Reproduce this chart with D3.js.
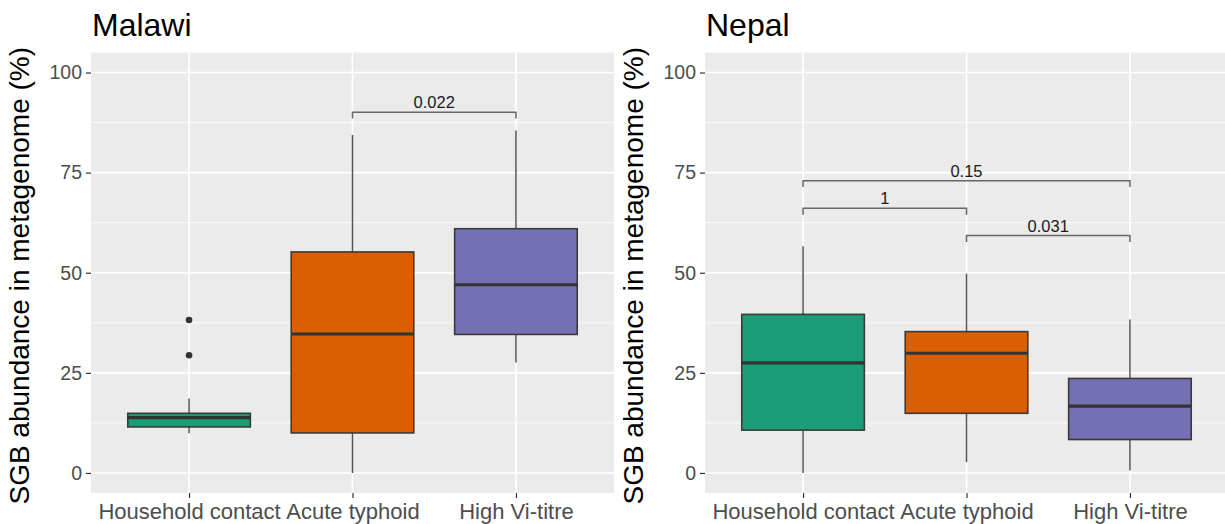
<!DOCTYPE html>
<html>
<head>
<meta charset="utf-8">
<script src="https://cdn.jsdelivr.net/npm/d3@7"></script>
<style>
  html, body { margin: 0; padding: 0; background: #ffffff; }
  svg { display: block; font-family: "Liberation Sans", Arial, Helvetica, sans-serif; }
</style>
</head>
<body>
<svg id="chart" width="1225" height="524"></svg>
<script>
// ---------- data ----------
const categories = ["Household contact", "Acute typhoid", "High Vi-titre"];
const groupColors = ["#1B9E77", "#D95F02", "#7570B3"];
const yTicks = [0, 25, 50, 75, 100];
const yMinor = [12.5, 37.5, 62.5, 87.5];

const panelTitles = ["Malawi", "Nepal"];
const yAxisTitle = "SGB abundance in metagenome (%)";

// Malawi
const malawiLower  = [9.9, 0.0, 27.6];
const malawiQ1     = [11.5, 10.0, 34.6];
const malawiMedian = [13.8, 34.7, 47.0];
const malawiQ3     = [14.9, 55.2, 61.0];
const malawiUpper  = [18.6, 84.4, 85.5];
const malawiOutliers = [[29.4, 38.2], [], []];
const malawiBrackets = [{ from: 1, to: 2, y: 90.1, label: "0.022" }];

// Nepal
const nepalLower  = [0.0, 2.7, 0.6];
const nepalQ1     = [10.7, 14.9, 8.35];
const nepalMedian = [27.5, 29.9, 16.7];
const nepalQ3     = [39.6, 35.3, 23.6];
const nepalUpper  = [56.6, 49.75, 38.3];
const nepalOutliers = [[], [], []];
const nepalBrackets = [
  { from: 0, to: 2, y: 73.0, label: "0.15" },
  { from: 0, to: 1, y: 66.1, label: "1" },
  { from: 1, to: 2, y: 59.3, label: "0.031" }
];

function buildBoxes(lower, q1, med, q3, upper, outliers) {
  return categories.map((c, i) => ({
    cat: c, color: groupColors[i],
    lower: lower[i], q1: q1[i], median: med[i], q3: q3[i], upper: upper[i],
    outliers: outliers[i]
  }));
}

const panels = [
  { title: panelTitles[0], left: 91, boxes: buildBoxes(malawiLower, malawiQ1, malawiMedian, malawiQ3, malawiUpper, malawiOutliers), brackets: malawiBrackets },
  { title: panelTitles[1], left: 705, boxes: buildBoxes(nepalLower, nepalQ1, nepalMedian, nepalQ3, nepalUpper, nepalOutliers), brackets: nepalBrackets }
];

// ---------- layout ----------
const panelW = 523;
const panelTop = 52.5, panelBottom = 493;
const svg = d3.select("#chart");

const y = d3.scaleLinear().domain([-5, 105]).range([panelBottom, panelTop]);

panels.forEach(p => {
  const x = d3.scalePoint().domain(categories).range([p.left, p.left + panelW]).padding(0.6);
  const step = x.step();
  const bw = step * 0.75;
  const g = svg.append("g");

  // panel background
  g.append("rect")
    .attr("x", p.left).attr("y", panelTop)
    .attr("width", panelW).attr("height", panelBottom - panelTop)
    .attr("fill", "#EBEBEB");

  // minor grid
  g.selectAll(".ymin").data(yMinor).enter().append("line")
    .attr("x1", p.left).attr("x2", p.left + panelW)
    .attr("y1", d => y(d)).attr("y2", d => y(d))
    .attr("stroke", "#ffffff").attr("stroke-width", 0.8);
  // major grid
  g.selectAll(".ymaj").data(yTicks).enter().append("line")
    .attr("x1", p.left).attr("x2", p.left + panelW)
    .attr("y1", d => y(d)).attr("y2", d => y(d))
    .attr("stroke", "#ffffff").attr("stroke-width", 1.6);
  g.selectAll(".xmaj").data(categories).enter().append("line")
    .attr("x1", d => x(d)).attr("x2", d => x(d))
    .attr("y1", panelTop).attr("y2", panelBottom)
    .attr("stroke", "#ffffff").attr("stroke-width", 1.6);

  // whiskers
  const bx = g.selectAll(".box").data(p.boxes).enter().append("g");
  bx.append("line")
    .attr("x1", d => x(d.cat)).attr("x2", d => x(d.cat))
    .attr("y1", d => y(d.q3)).attr("y2", d => y(d.upper))
    .attr("stroke", "#555555").attr("stroke-width", 1.5);
  bx.append("line")
    .attr("x1", d => x(d.cat)).attr("x2", d => x(d.cat))
    .attr("y1", d => y(d.q1)).attr("y2", d => y(d.lower))
    .attr("stroke", "#555555").attr("stroke-width", 1.5);
  // boxes
  bx.append("rect")
    .attr("x", d => x(d.cat) - bw / 2).attr("width", bw)
    .attr("y", d => y(d.q3)).attr("height", d => y(d.q1) - y(d.q3))
    .attr("fill", d => d.color)
    .attr("stroke", "#3a3a3a").attr("stroke-width", 1.6);
  // medians
  bx.append("line")
    .attr("x1", d => x(d.cat) - bw / 2).attr("x2", d => x(d.cat) + bw / 2)
    .attr("y1", d => y(d.median)).attr("y2", d => y(d.median))
    .attr("stroke", "#333333").attr("stroke-width", 3.2);
  // outliers
  bx.each(function (d) {
    d3.select(this).selectAll("circle").data(d.outliers).enter().append("circle")
      .attr("cx", x(d.cat)).attr("cy", v => y(v)).attr("r", 3.3)
      .attr("fill", "#333333");
  });

  // significance brackets
  const drop = 1.6;
  const br = g.selectAll(".br").data(p.brackets).enter().append("g");
  br.append("path")
    .attr("d", d => {
      const x1 = x(categories[d.from]), x2 = x(categories[d.to]);
      return `M${x1},${y(d.y - drop)}V${y(d.y)}H${x2}V${y(d.y - drop)}`;
    })
    .attr("fill", "none").attr("stroke", "#666666").attr("stroke-width", 1.5);
  br.append("text")
    .attr("x", d => (x(categories[d.from]) + x(categories[d.to])) / 2)
    .attr("y", d => y(d.y) - 4)
    .attr("text-anchor", "middle")
    .attr("font-size", 16.5).attr("fill", "#1a1a1a")
    .text(d => d.label);

  // y axis
  const yAxis = d3.axisLeft(y).tickValues(yTicks).tickSize(5).tickPadding(4);
  const ya = g.append("g").attr("transform", `translate(${p.left},0)`).call(yAxis);
  ya.select(".domain").remove();
  ya.selectAll(".tick line").attr("stroke", "#333333").attr("stroke-width", 1.2);
  ya.selectAll(".tick text").attr("font-size", 19.5).attr("fill", "#4D4D4D")
    .attr("font-family", "Liberation Sans, Arial, sans-serif");

  // x axis
  const xAxis = d3.axisBottom(x).tickSize(5).tickPadding(5);
  const xa = g.append("g").attr("transform", `translate(0,${panelBottom})`).call(xAxis);
  xa.select(".domain").remove();
  xa.selectAll(".tick line").attr("stroke", "#333333").attr("stroke-width", 1.2);
  xa.selectAll(".tick text").attr("font-size", 22).attr("fill", "#4D4D4D")
    .attr("font-family", "Liberation Sans, Arial, sans-serif");

  // title
  g.append("text")
    .attr("x", p.left + 1).attr("y", 36)
    .attr("font-size", 32).attr("fill", "#000000")
    .text(p.title);

  // y axis title
  g.append("text")
    .attr("transform", `translate(${p.left - 62},${(panelTop + panelBottom) / 2 + 3}) rotate(-90)`)
    .attr("text-anchor", "middle")
    .attr("font-size", 28).attr("fill", "#000000")
    .text(yAxisTitle);
});
</script>
</body>
</html>
